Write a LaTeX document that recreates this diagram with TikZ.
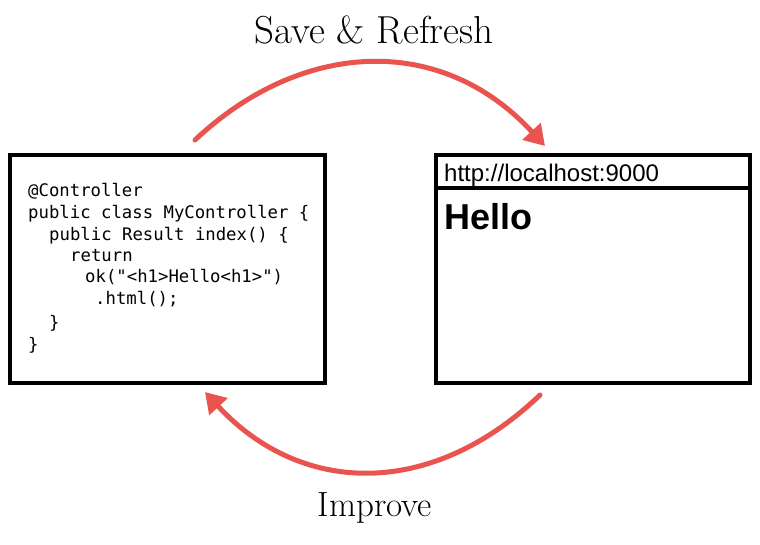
\documentclass[tikz,border=0pt]{standalone}
\usepackage{fontspec}
\newfontfamily\codefont{DejaVu Sans Mono}
\newfontfamily\uifont{Liberation Sans}
\usetikzlibrary{arrows.meta}
\definecolor{sketchred}{RGB}{233,84,78}
\tikzset{
  box/.style={draw=black, line width=4.5pt, rectangle, inner sep=0pt},
  codeline/.style={anchor=base west, inner sep=0pt, font=\codefont\fontsize{17.3}{20}\selectfont},
  redarrow/.style={draw=sketchred, line width=5pt, line cap=round,
    -{Triangle[length=20pt,width=24pt]}},
  hand/.style={inner sep=0pt}
}
\begin{document}
\begin{tikzpicture}[x=1pt,y=-1pt]
\useasboundingbox (0,0) rectangle (760,544);
% boxes
\node[box, minimum width=315pt, minimum height=228pt] (code) at (167.5,269) {};
\node[box, minimum width=314pt, minimum height=228pt] (browser) at (593,269) {};
\coordinate (divL) at (436,188);
\coordinate (divR) at (750,188);
\draw[black, line width=4pt] (divL) -- (divR);
% code text
\node[codeline] (c1) at (28,196) {@Controller};
\node[codeline] (c2) at (28,218) {public class MyController \{};
\node[codeline] (c3) at (49,240) {public Result index() \{};
\node[codeline] (c4) at (70,261) {return};
\node[codeline] (c5) at (85,282) {ok("<h1>Hello<h1>")};
\node[codeline] (c6) at (95,304) {.html();};
\node[codeline] (c7) at (49,328) {\}};
\node[codeline] (c8) at (28,350) {\}};
% browser text
\node[anchor=base west, inner sep=0pt, font=\uifont\fontsize{24}{26}\selectfont] (url) at (444,181) {http://localhost:9000};
\node[anchor=base west, inner sep=0pt, font=\uifont\bfseries\fontsize{36}{40}\selectfont] (hello) at (444,229) {Hello};
% arrows
\coordinate (a1s) at (195,140);
\coordinate (a1e) at (545,146);
\coordinate (a2s) at (540,395);
\coordinate (a2e) at (205,392);
\draw[redarrow] (a1s) .. controls (300,41) and (440,32) .. (a1e);
\draw[redarrow] (a2s) .. controls (430,500) and (300,495) .. (a2e);
% labels
\node[hand, font=\fontsize{39}{44}\selectfont] (save) at (374,30) {Save \& Refresh};
\node[hand, font=\fontsize{35}{40}\selectfont] (improve) at (375,508) {Improve};
\end{tikzpicture}
\end{document}
